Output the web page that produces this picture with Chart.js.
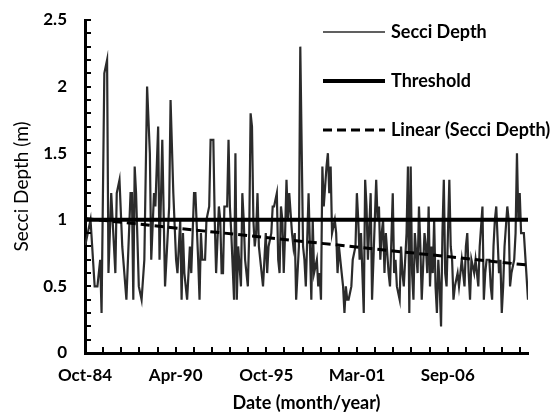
<!DOCTYPE html>
<html><head><meta charset="utf-8">
<script src="https://cdn.jsdelivr.net/npm/chart.js@4.4.0/dist/chart.umd.min.js"></script>
<style>html,body{margin:0;padding:0;background:#fff;}#wrap{width:556px;height:418px;}</style>
</head><body><div id="wrap"><canvas id="c" width="556" height="418"></canvas></div>
<script>
// ---- data ----
const sampleDates = [
 '1984-10',
 '1985-02','1985-05','1985-07','1985-09','1985-10','1985-12',
 '1986-02','1986-03','1986-05','1986-07','1986-08','1986-09','1986-11',
 '1987-01','1987-04','1987-07','1987-08','1987-09','1987-10','1987-11',
 '1988-01','1988-03','1988-05','1988-07','1988-09','1988-10','1988-12',
 '1989-01','1989-03','1989-04','1989-06','1989-08','1989-11','1989-12',
 '1990-02','1990-04','1990-05','1990-07','1990-08','1990-09','1990-10','1990-12',
 '1991-01','1991-02','1991-03','1991-05','1991-06','1991-08','1991-09','1991-10','1991-11',
 '1992-01','1992-02','1992-04','1992-05','1992-07','1992-08','1992-09','1992-11','1992-12',
 '1993-01','1993-02','1993-03','1993-05','1993-06','1993-07','1993-08','1993-10','1993-11','1993-12',
 '1994-01','1994-03','1994-04','1994-05','1994-06','1994-08','1994-09','1994-10','1994-11','1994-12',
 '1995-01','1995-02','1995-03','1995-04','1995-07','1995-08','1995-09','1995-10','1995-11',
 '1996-01','1996-02','1996-03','1996-05','1996-06','1996-07','1996-08','1996-09','1996-10','1996-11','1996-12',
 '1997-01','1997-02','1997-04','1997-05','1997-06','1997-07','1997-09','1997-10','1997-12',
 '1998-01','1998-02','1998-04','1998-05','1998-06','1998-07','1998-08','1998-10','1998-11','1998-12',
 '1999-01','1999-02','1999-03','1999-05','1999-06','1999-07','1999-08','1999-09','1999-11','1999-12',
 '2000-01','2000-02','2000-04','2000-05','2000-06','2000-07','2000-08','2000-09','2000-11','2000-12',
 '2001-02','2001-03','2001-04','2001-05','2001-06','2001-08','2001-09','2001-10','2001-11',
 '2002-01','2002-02','2002-04','2002-05','2002-06','2002-07','2002-08','2002-09','2002-10','2002-11','2002-12',
 '2003-02','2003-03','2003-05','2003-06','2003-07','2003-08','2003-10','2003-11','2003-12',
 '2004-01','2004-03','2004-04','2004-05','2004-06','2004-07','2004-08','2004-09','2004-11','2004-12',
 '2005-01','2005-02','2005-04','2005-05','2005-06','2005-07','2005-08','2005-09','2005-10','2005-11','2005-12',
 '2006-01','2006-02','2006-03','2006-04','2006-05','2006-06','2006-07','2006-08','2006-10','2006-11','2006-12',
 '2007-01','2007-02','2007-04','2007-05','2007-06','2007-07','2007-09','2007-10','2007-11','2007-12',
 '2008-01','2008-02','2008-04','2008-05','2008-06','2008-07','2008-08','2008-10','2008-11','2008-12',
 '2009-01','2009-03','2009-04','2009-05','2009-06','2009-07','2009-08','2009-10','2009-11','2009-12',
 '2010-01','2010-02','2010-04','2010-05','2010-06','2010-07','2010-09','2010-10','2010-11','2010-12',
 '2011-01','2011-02','2011-04','2011-07'
];
const secciDepth = [
 0.8,
 1.0,0.5,0.5,0.7,0.3,2.1,
 2.2,0.6,1.2,0.8,0.6,1.2,1.3,
 0.8,0.4,1.2,1.2,0.4,1.4,1.2,
 0.5,0.4,0.7,2.0,1.5,0.7,1.2,
 1.1,1.7,0.7,1.6,0.5,1.1,1.9,
 1.2,0.7,0.6,1.0,0.4,0.9,0.6,0.4,
 0.6,0.8,0.6,1.2,1.2,0.7,0.4,0.9,0.7,
 0.7,1.0,1.1,1.6,1.6,1.0,0.6,1.1,1.0,
 0.6,0.6,1.1,1.1,1.6,1.1,0.9,0.4,1.5,0.4,
 0.8,0.5,1.2,1.0,0.7,0.5,0.9,1.8,1.7,1.0,
 0.8,0.9,1.2,0.8,0.5,0.7,0.9,0.6,0.8,
 0.9,1.1,1.1,1.2,0.7,0.6,1.1,1.0,0.6,0.9,1.3,
 1.0,1.2,0.9,0.8,0.9,0.4,0.8,2.3,0.8,
 0.7,0.5,1.2,0.8,0.4,1.0,0.6,0.7,0.5,0.6,
 0.4,1.4,1.1,1.4,1.5,1.2,1.4,0.9,1.0,0.9,
 0.6,0.8,0.6,0.5,0.3,0.5,0.4,0.4,0.5,0.7,
 0.8,1.2,1.0,0.7,0.9,0.3,1.3,1.1,0.7,
 1.2,0.4,1.0,1.3,1.0,1.1,0.7,0.9,1.0,0.6,0.9,
 0.6,0.5,1.2,0.6,0.7,0.5,0.4,0.8,0.6,
 0.5,0.9,1.4,0.3,1.4,0.6,0.4,0.9,0.6,1.1,
 0.8,0.4,0.9,0.8,0.6,1.1,0.5,0.8,0.6,1.0,0.5,
 0.3,0.7,0.5,0.2,0.9,1.3,0.6,0.5,1.3,0.8,0.7,
 0.4,0.5,0.6,0.5,0.6,0.7,0.5,0.8,0.9,0.6,
 0.4,0.7,0.6,0.7,0.6,0.5,0.8,1.1,0.4,0.6,
 0.7,0.7,0.5,0.4,0.8,1.0,1.1,0.6,0.7,0.3,
 0.5,0.8,1.1,1.0,0.5,0.6,0.7,0.9,1.5,1.0,
 1.2,0.9,0.9,0.4
];
const thresholdValue = 1.0;
const trendDates = ['1984-10','2011-07'];
const trendValues = [1.01, 0.66];
const axisStartDate = '1984-10';
const axisEndDate = '2011-07';
const xTickLabels = ['Oct-84','Apr-90','Oct-95','Mar-01','Sep-06'];
const yTickValues = [0, 0.5, 1, 1.5, 2, 2.5];

// ---- helpers / config ----
function toMonth(s){ const [y,m] = s.split('-').map(Number); const [y0,m0] = axisStartDate.split('-').map(Number); return (y-y0)*12 + (m-m0); }
const DAYS_PER_MONTH = 30.4375;
const majorStep = 2000 / DAYS_PER_MONTH;   // Excel major unit 2000 days
const minorStep = 400 / DAYS_PER_MONTH;    // Excel minor unit 400 days
const xMax = toMonth(axisEndDate);
const FONT = 'Lato, "Open Sans", sans-serif';

const insideTicks = {
  id:'insideTicks',
  afterDatasetsDraw(chart){
    const {ctx, chartArea:a, scales:{x,y}} = chart;
    ctx.save(); ctx.strokeStyle='#000'; ctx.lineWidth=2;
    ctx.beginPath();
    for (let v=0; v<=xMax+1e-6; v+=minorStep){ const px=Math.round(x.getPixelForValue(v)); ctx.moveTo(px,a.bottom); ctx.lineTo(px,a.bottom-6); }
    for (let k=0; k<=25; k++){ const py=Math.round(y.getPixelForValue(k/10)); ctx.moveTo(a.left,py); ctx.lineTo(a.left+6,py); }
    ctx.stroke(); ctx.restore();
  }
};
const legendBox = {
  id:'legendBox',
  afterDraw(chart){
    const ctx = chart.ctx; const rows=[32,81,130];
    ctx.save();
    chart.data.datasets.forEach((ds,i)=>{
      const yy=rows[i];
      ctx.beginPath(); ctx.strokeStyle=ds.borderColor; ctx.lineWidth=ds.legendWidth||ds.borderWidth;
      ctx.setLineDash(ds.borderDash||[]); ctx.moveTo(323,yy); ctx.lineTo(385,yy); ctx.stroke();
      ctx.setLineDash([]);
      ctx.fillStyle='#000'; ctx.font='bold 18px '+FONT; ctx.textBaseline='middle'; ctx.textAlign='left';
      ctx.fillText(ds.label, 391, yy);
    });
    ctx.restore();
  }
};

new Chart(document.getElementById('c').getContext('2d'), {
  type:'line',
  data:{ datasets:[
    { label:'Secci Depth', data: sampleDates.map((d,i)=>({x:toMonth(d), y:secciDepth[i]})),
      borderColor:'#2b2b2b', borderWidth:2.2, legendWidth:1.5, pointRadius:0, tension:0, order:2 },
    { label:'Threshold', data:[{x:0,y:thresholdValue},{x:xMax,y:thresholdValue}],
      borderColor:'#000000', borderWidth:4, pointRadius:0, order:1 },
    { label:'Linear (Secci Depth)', data: trendDates.map((d,i)=>({x:toMonth(d), y:trendValues[i]})),
      borderColor:'#000000', borderWidth:3, borderDash:[9,5], pointRadius:0, order:0 }
  ]},
  options:{
    responsive:false, animation:false, devicePixelRatio:1,
    layout:{ padding:{ top:20, right:28, left:0, bottom:0 } },
    plugins:{ legend:{display:false}, tooltip:{enabled:false} },
    scales:{
      x:{ type:'linear', min:0, max:xMax,
        afterBuildTicks:(s)=>{ s.ticks = xTickLabels.map((l,i)=>({value:i*majorStep})); },
        ticks:{ callback:(v,i)=>xTickLabels[i], font:{family:FONT,size:17,weight:'bold'}, color:'#000', padding:12, maxRotation:0, autoSkip:false },
        grid:{ display:false, drawTicks:false }, border:{ display:true, color:'#000', width:3 },
        title:{ display:true, text:'Date (month/year)', font:{family:FONT,size:18,weight:'bold'}, color:'#000', padding:{top:6,bottom:4} },
        afterFit:(s)=>{ s.height = 65; s.paddingLeft = 0; s.paddingRight = 0; }
      },
      y:{ min:0, max:2.5,
        afterBuildTicks:(s)=>{ s.ticks = yTickValues.map(v=>({value:v})); },
        ticks:{ callback:(v)=>String(v), font:{family:FONT,size:17,weight:'bold'}, color:'#000', padding:18 },
        grid:{ display:false, drawTicks:false }, border:{ display:true, color:'#000', width:3 },
        title:{ display:true, text:'Secci Depth (m)', font:{family:FONT,size:19,weight:'normal'}, color:'#000', padding:{top:10,bottom:4} },
        afterFit:(s)=>{ s.width = 85; s.paddingTop = 0; s.paddingBottom = 0; }
      }
    }
  },
  plugins:[insideTicks, legendBox]
});
</script></body></html>
